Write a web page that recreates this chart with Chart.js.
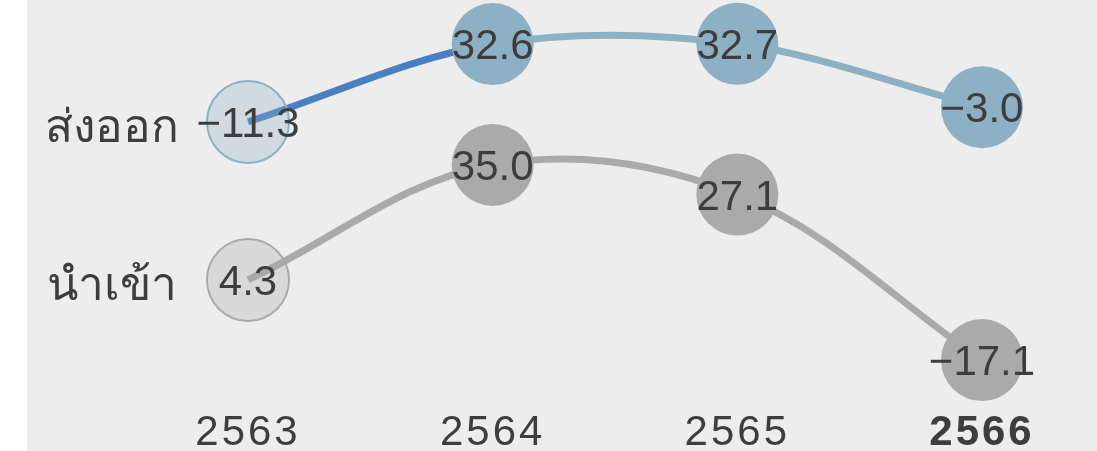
<!DOCTYPE html>
<html>
<head>
<meta charset="utf-8">
<script src="https://cdn.jsdelivr.net/npm/chart.js@4.4.1/dist/chart.umd.min.js"></script>
<style>
  html, body { margin: 0; padding: 0; background: #ffffff; }
  #wrap { position: absolute; left: 27px; top: 0; width: 1070px; height: 451px; background: #ededed; overflow: hidden; }
</style>
</head>
<body>
<div id="wrap"><canvas id="chart_area"></canvas></div>
<script>
'use strict';

//Data
var years = ['2563', '2564', '2565', '2566'];
var seriesNames = ['ส่งออก', 'นำเข้า'];
var exportValues = [-11.3, 32.6, 32.7, -3.0];
var importValues = [4.3, 35.0, 27.1, -17.1];

var fontFamily = '"Liberation Sans", Arial, "Noto Sans", sans-serif';
var textColor = '#3d3d3d';

function fmt(v){
    var s = Math.abs(v).toFixed(1);
    return v < 0 ? '\u2212' + s : s;
}

//Draws values inside the circles and the series names on the left
var labelPlugin = {
    id: 'valueLabels',
    beforeDraw: function(chart){
        //wider year labels like the original
        chart.ctx.letterSpacing = '3px';
    },
    beforeDatasetsDraw: function(chart){
        chart.ctx.letterSpacing = '0px';
    },
    afterDatasetsDraw: function(chart){
        var ctx = chart.ctx;
        ctx.save();
        ctx.letterSpacing = '0px';
        ctx.fillStyle = textColor;
        ctx.textAlign = 'center';
        ctx.textBaseline = 'alphabetic';
        chart.data.datasets.forEach(function(ds, i){
            var meta = chart.getDatasetMeta(i);
            ctx.font = '42px ' + fontFamily;
            meta.data.forEach(function(pt, j){
                ctx.fillText(fmt(ds.data[j]), pt.x, pt.y + 15);
            });
            var first = meta.data[0];
            ctx.font = '46px ' + fontFamily;
            ctx.fillText(ds.label, first.x - 136, first.y + 20);
        });
        ctx.restore();
    }
};

var config = {
    type: 'line',
    data: {
        labels: years,
        datasets: [
            {
                label: seriesNames[0],
                data: exportValues,
                yAxisID: 'yExp',
                borderColor: '#8eb0c5',
                borderWidth: 7,
                tension: 0.33,
                clip: false,
                segment: {
                    borderColor: function(c){ return c.p0DataIndex === 0 ? '#4a7fc0' : '#8eb0c5'; }
                },
                pointRadius: 41,
                pointHoverRadius: 41,
                pointBackgroundColor: ['rgba(142,176,197,0.3)', '#8eb0c5', '#8eb0c5', '#8eb0c5'],
                pointBorderColor: '#8eb0c5',
                pointBorderWidth: [2, 0, 0, 0]
            },
            {
                label: seriesNames[1],
                data: importValues,
                yAxisID: 'yImp',
                borderColor: '#aaaaaa',
                borderWidth: 7,
                tension: 0.36,
                clip: false,
                pointRadius: 41,
                pointHoverRadius: 41,
                pointBackgroundColor: ['rgba(170,170,170,0.3)', '#aaaaaa', '#aaaaaa', '#aaaaaa'],
                pointBorderColor: '#aaaaaa',
                pointBorderWidth: [2, 0, 0, 0]
            }
        ]
    },
    options: {
        responsive: false,
        animation: false,
        events: [],
        layout: { autoPadding: false, padding: { left: 221, right: 115, top: 0, bottom: 0 } },
        plugins: {
            legend: { display: false },
            tooltip: { enabled: false }
        },
        scales: {
            x: {
                offset: false,
                grid: { display: false, drawTicks: false },
                border: { display: false },
                afterFit: function(scale){ scale.height = 63; },
                ticks: {
                    color: textColor,
                    padding: 19.8,
                    maxRotation: 0,
                    autoSkip: false,
                    font: function(c){
                        return { family: fontFamily, size: 42, weight: c.index === 3 ? 'bold' : 'normal' };
                    }
                }
            },
            yExp: { display: false, min: -161.2, max: 57.4 },
            yImp: { display: false, min: -24.55, max: 79.05 }
        }
    },
    plugins: [labelPlugin]
};

var canvas = document.getElementById('chart_area');
canvas.width = 1070;
canvas.height = 451;
window.myLine = new Chart(canvas.getContext('2d'), config);
</script>
</body>
</html>
